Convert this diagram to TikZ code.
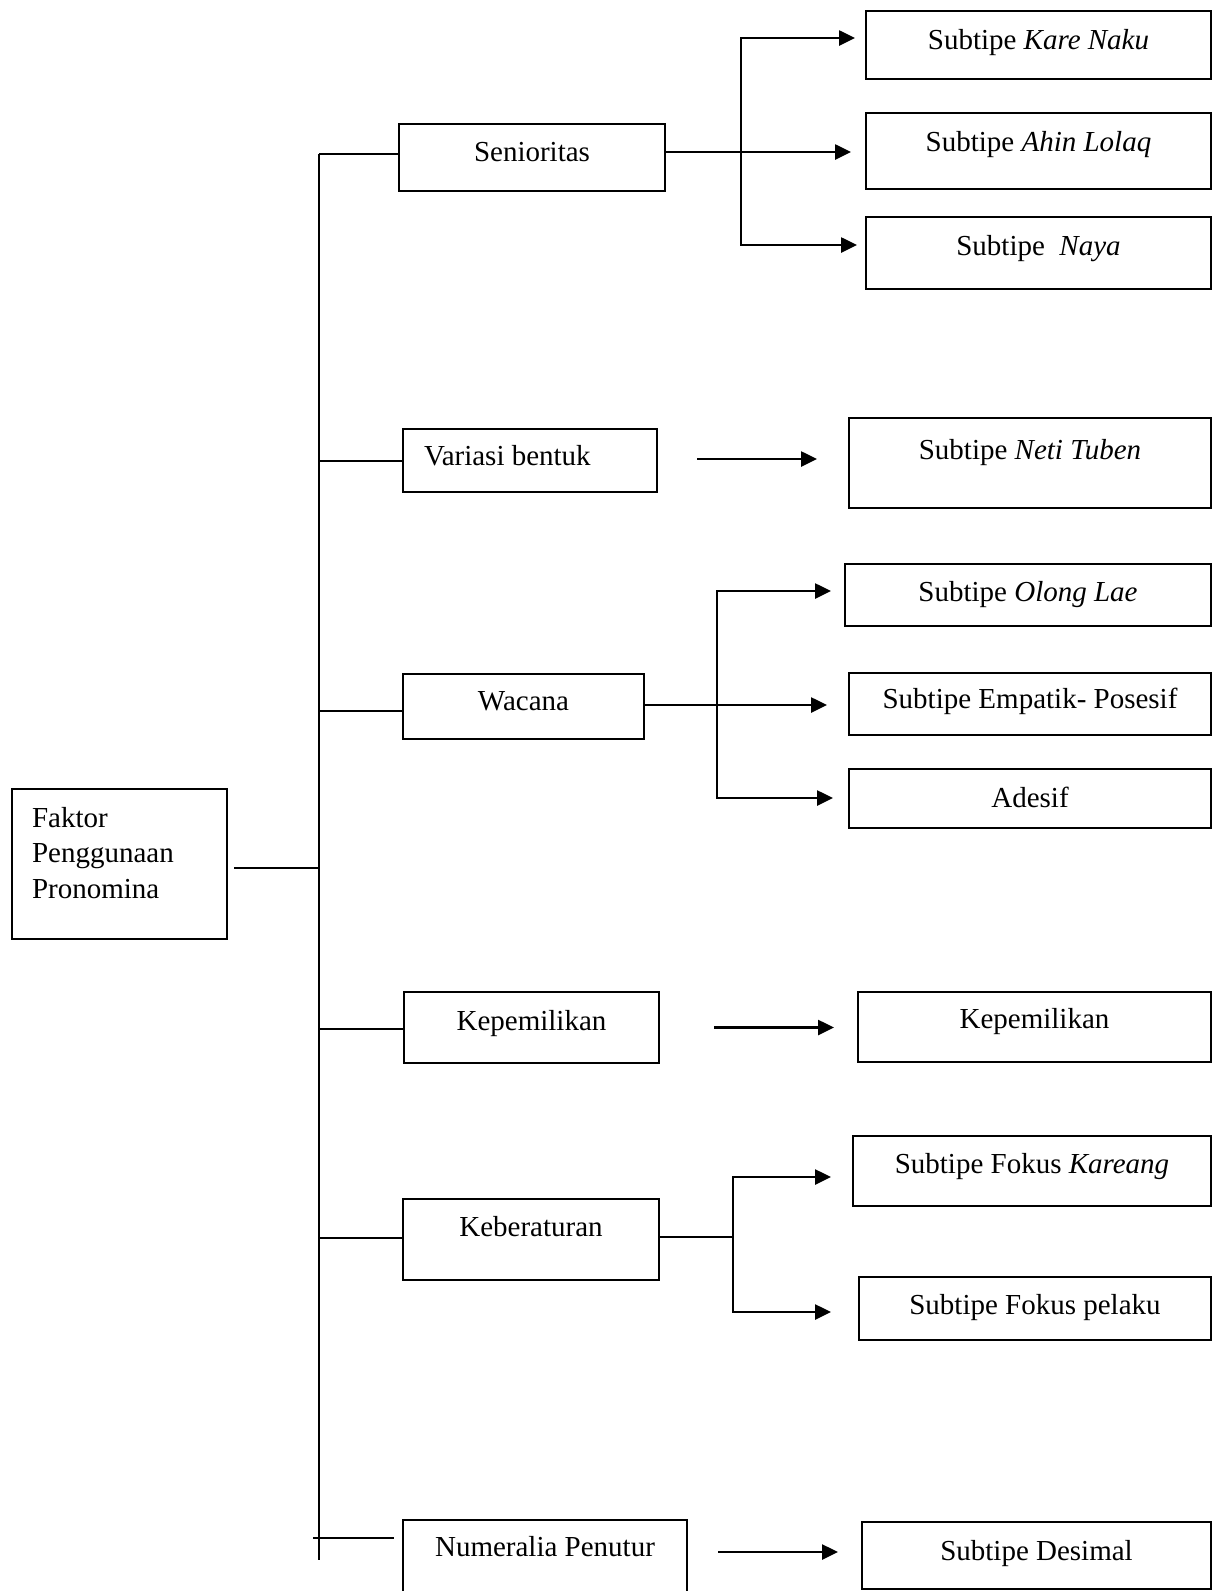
\documentclass[tikz,border=0pt]{standalone}
\usepackage{fontspec}
\setmainfont{Liberation Serif}
\usetikzlibrary{arrows.meta}
\tikzset{
  bx/.style={draw, line width=2.6pt, rectangle, inner sep=0pt, outer sep=0pt,
    anchor=north west, align=center, font=\fontsize{29}{35.5}\selectfont},
  thinline/.style={line width=1.4pt},
  trunkline/.style={line width=1.8pt},
  arr/.style={line width=2.6pt, -{Triangle[length=16pt,width=15pt]}}
}
\begin{document}
\begin{tikzpicture}[x=1pt,y=-1pt]
\clip (0,0) rectangle (1213,1591);
\fill[white] (0,0) rectangle (1213,1591);

% main box
\node[bx, inner xsep=20pt, text width=175pt, align=left, text height=38pt, text depth=112pt] (fak) at (12,789) {Faktor\\Penggunaan\\Pronomina};

% level 1 boxes
\node[bx, minimum width=266pt, text height=37pt, text depth=30pt] (sen) at (399,124) {Senioritas};
\node[bx, inner xsep=21pt, text height=36pt, text depth=27pt] (var) at (403,429) {\makebox[212pt][l]{Variasi bentuk}};
\node[bx, minimum width=241pt, text height=36pt, text depth=29pt] (wac) at (403,674) {Wacana};
\node[bx, minimum width=255pt, text height=38pt, text depth=33pt] (kep) at (404,992) {Kepemilikan};
\node[bx, minimum width=256pt, text height=37pt, text depth=44pt] (keb) at (403,1199) {Keberaturan};
\node[bx, minimum width=284pt, text height=36pt, text depth=84pt] (num) at (403,1520) {Numeralia Penutur};

% level 2 boxes
\node[bx, minimum width=345pt, text height=38pt, text depth=30pt] (kn) at (866,11) {Subtipe \textit{Kare Naku}};
\node[bx, minimum width=345pt, text height=38pt, text depth=38pt] (al) at (866,113) {Subtipe \textit{Ahin Lolaq}};
\node[bx, minimum width=345pt, text height=38pt, text depth=34pt] (ny) at (866,217) {Subtipe\ \ \textit{Naya}};
\node[bx, minimum width=362pt, text height=41pt, text depth=49pt] (nt) at (849,418) {Subtipe \textit{Neti Tuben}};
\node[bx, minimum width=366pt, text height=37pt, text depth=25pt] (ol) at (845,564) {Subtipe \textit{Olong Lae}};
\node[bx, minimum width=362pt, text height=35pt, text depth=27pt] (ep) at (849,673) {Subtipe Empatik- Posesif};
\node[bx, minimum width=362pt, text height=38pt, text depth=21pt] (ad) at (849,769) {Adesif};
\node[bx, minimum width=353pt, text height=36pt, text depth=34pt] (kp2) at (858,992) {Kepemilikan};
\node[bx, minimum width=358pt, text height=37pt, text depth=33pt] (kr) at (853,1136) {Subtipe Fokus \textit{Kareang}};
\node[bx, minimum width=352pt, text height=37pt, text depth=26pt] (pl) at (859,1277) {Subtipe Fokus pelaku};
\node[bx, minimum width=349pt, text height=38pt, text depth=29pt] (ds) at (862,1522) {Subtipe Desimal};

% trunk
\coordinate (ttop) at (319,154);
\coordinate (tbot) at (319,1560);
\draw[trunkline] (ttop) -- (tbot);
\coordinate (j1) at (319,154);
\coordinate (j2) at (319,461);
\coordinate (j3) at (319,711);
\coordinate (j4) at (319,1029);
\coordinate (j5) at (319,1238);
\coordinate (j6) at (313,1538);
\coordinate (jf) at (319,868);
\draw[thinline] (j1) -- (j1 -| sen.west);
\draw[thinline] (j2) -- (j2 -| var.west);
\draw[thinline] (j3) -- (j3 -| wac.west);
\draw[thinline] (j4) -- (j4 -| kep.west);
\draw[thinline] (j5) -- (j5 -| keb.west);
\draw[thinline] (j6) -- ([xshift=-9pt]j6 -| num.west);
\draw[thinline] ([xshift=7pt]jf -| fak.east) -- (jf);

% Senioritas branches
\coordinate (s0) at (741,152);
\coordinate (sa) at (741,38);
\coordinate (sb) at (741,245);
\draw[thinline] (s0 -| sen.east) -- (s0);
\draw[thinline] ([yshift=1pt]sa) -- ([yshift=-1pt]sb);
\draw[arr] (sa) -- ([xshift=-11pt]sa -| kn.west);
\draw[arr] (s0) -- ([xshift=-15pt]s0 -| al.west);
\draw[arr] (sb) -- ([xshift=-9pt]sb -| ny.west);

% Variasi bentuk
\draw[arr] ([xshift=40pt,yshift=1.5pt]var.east) -- ([xshift=-32pt,yshift=1.5pt]var.east -| nt.west);

% Wacana branches
\coordinate (w0) at (717,705);
\coordinate (wa) at (717,591);
\coordinate (wb) at (717,798);
\draw[thinline] (w0 -| wac.east) -- (w0);
\draw[thinline] ([yshift=1pt]wa) -- ([yshift=-1pt]wb);
\draw[arr] (wa) -- ([xshift=-14pt]wa -| ol.west);
\draw[arr] (w0) -- ([xshift=-22pt]w0 -| ep.west);
\draw[arr] (wb) -- ([xshift=-16pt]wb -| ad.west);

% Kepemilikan
\draw[arr] ([xshift=55pt]kep.east) -- ([xshift=-24pt]kep.east -| kp2.west);

% Keberaturan branches
\coordinate (k0) at (733,1237);
\coordinate (ka) at (733,1177);
\coordinate (kb) at (733,1312);
\draw[thinline] (k0 -| keb.east) -- (k0);
\draw[thinline] ([yshift=1pt]ka) -- ([yshift=-1pt]kb);
\draw[arr] (ka) -- ([xshift=-22pt]ka -| kr.west);
\draw[arr] (kb) -- ([xshift=-28pt]kb -| pl.west);

% Numeralia
\coordinate (n0) at ([shift={(31,32)}]num.north east);
\draw[arr] (n0) -- ([xshift=-24pt]n0 -| ds.west);
\end{tikzpicture}
\end{document}
